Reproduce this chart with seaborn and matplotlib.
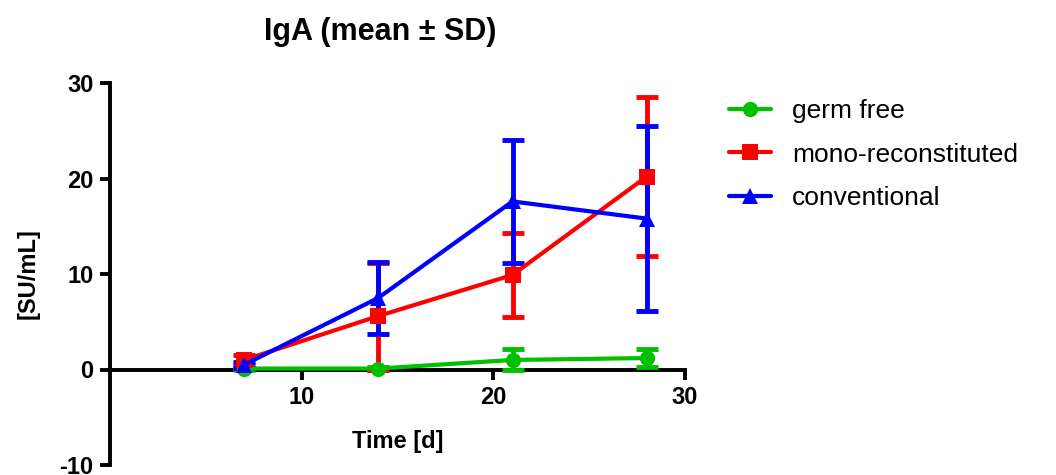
import pandas as pd
import matplotlib.pyplot as plt
import seaborn as sns

# data
days = [7, 14, 21, 28]
groups = ["germ free", "mono-reconstituted", "conventional"]
germ_free_mean = [0.1, 0.1, 1.0, 1.2]
germ_free_sd = [0.1, 0.2, 1.1, 0.9]
mono_mean = [1.0, 5.6, 9.9, 20.2]
mono_sd = [0.5, 5.6, 4.4, 8.3]
conv_mean = [0.5, 7.5, 17.6, 15.8]
conv_sd = [0.3, 3.8, 6.4, 9.7]

colors = {"germ free": "#00C000", "mono-reconstituted": "#FF0000", "conventional": "#0000FF"}
markers = {"germ free": "o", "mono-reconstituted": "s", "conventional": "^"}

df = pd.DataFrame({
    "Day": days * 3,
    "Group": [g for g in groups for _ in days],
    "Mean": germ_free_mean + mono_mean + conv_mean,
    "SD": germ_free_sd + mono_sd + conv_sd,
})

sns.set_style("ticks")
plt.rcParams['font.family'] = ['Liberation Sans', 'DejaVu Sans']
plt.rcParams['axes.unicode_minus'] = False
plt.rcParams['text.color'] = 'black'
plt.rcParams['axes.labelcolor'] = 'black'
plt.rcParams['xtick.color'] = 'black'
plt.rcParams['ytick.color'] = 'black'

fig = plt.figure(figsize=(10.56, 4.75), dpi=100)
ax = fig.add_axes([110 / 1056, 1 - 465 / 475, 575 / 1056, 382 / 475])

# error bars first, then lines + markers via seaborn
for i, g in enumerate(groups):
    sub = df[df["Group"] == g]
    ax.errorbar(sub["Day"], sub["Mean"], yerr=sub["SD"], fmt="none",
                ecolor=colors[g], elinewidth=3.5, capsize=8, capthick=3.5,
                zorder=3 + i, clip_on=False)

sns.lineplot(data=df, x="Day", y="Mean", hue="Group", style="Group",
             palette=colors, markers=markers, dashes=False, linewidth=3,
             markersize=11, markeredgewidth=0, ax=ax, zorder=6, clip_on=False)

ax.set_xlim(0, 30)
ax.set_ylim(-10, 30)
ax.set_xticks([10, 20, 30])
ax.set_yticks([-10, 0, 10, 20, 30])

ax.spines["top"].set_visible(False)
ax.spines["right"].set_visible(False)
ax.spines["bottom"].set_position(("data", 0))
for s in ["left", "bottom"]:
    ax.spines[s].set_linewidth(2.8)
    ax.spines[s].set_color("black")
ax.tick_params(axis="both", direction="out", length=7, width=2.8, labelsize=17, pad=5)
for lab in ax.get_xticklabels() + ax.get_yticklabels():
    lab.set_fontweight("bold")

ax.set_xlabel("Time [d]", fontsize=17, fontweight="bold", labelpad=15)
ax.set_ylabel("[SU/mL]", fontsize=17, fontweight="bold", labelpad=14)
fig.text(380 / 1056, 1 - 32 / 475, "IgA (mean ± SD)", ha="center", va="center",
         fontsize=22, fontweight="bold")

handles, labels = ax.get_legend_handles_labels()
ax.legend_.remove()
for h in handles:
    h.set_linewidth(3)
    h.set_markersize(11)
fig.legend(handles, labels, loc="upper left", bbox_to_anchor=(705 / 1056, 1 - 75 / 475),
           frameon=False, fontsize=19, handlelength=1.6, handletextpad=0.8,
           labelspacing=0.75)

fig.savefig("out.png", dpi=100)
